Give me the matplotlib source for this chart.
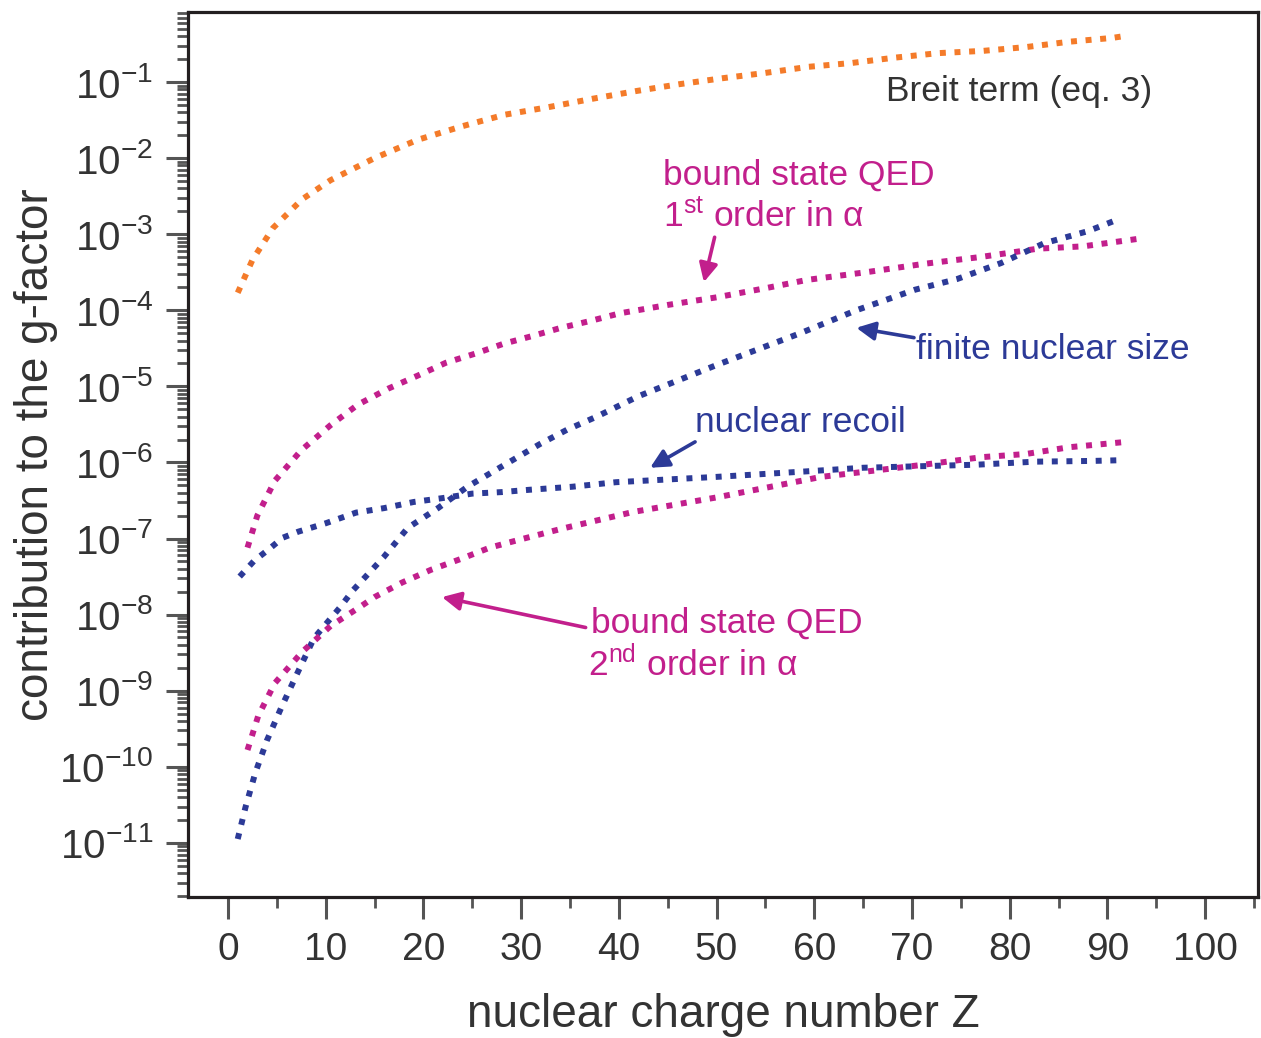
import numpy as np
import matplotlib
matplotlib.use("Agg")
import matplotlib.pyplot as plt
from matplotlib.ticker import LogLocator, MultipleLocator, NullFormatter

plt.rcParams['font.family'] = ['Liberation Sans', 'DejaVu Sans']
plt.rcParams['mathtext.fontset'] = 'custom'
plt.rcParams['mathtext.rm'] = 'Liberation Sans'
plt.rcParams['mathtext.it'] = 'Liberation Sans:italic'
plt.rcParams['mathtext.bf'] = 'Liberation Sans:bold'

# Breit term (eq. 3)
breit_z = [1, 2.5, 4.6, 7.6, 10.5, 15, 19.4, 24, 28.3, 32.8, 37.3, 41.7, 46.1,
           50.6, 55, 59.4, 63.8, 68.2, 72.7, 77.3, 81.7, 86.1, 90.5, 92]
breit_log = [-3.77, -3.34, -2.92, -2.54, -2.29, -2.00, -1.76, -1.58, -1.43, -1.33,
             -1.22, -1.12, -1.03, -0.95, -0.88, -0.80, -0.75, -0.68, -0.62, -0.59,
             -0.54, -0.47, -0.42, -0.39]

# bound state QED, 1st order in alpha
qed1_z = [2, 3, 4.8, 7.5, 10.5, 13.3, 16.4, 19.4, 22.3, 25.3, 28.2, 31.1, 34.1,
          37.1, 40.1, 45, 50, 55, 59.3, 65.3, 71.2, 77, 82.9, 87.5, 93.2]
qed1_log = [-7.12, -6.70, -6.24, -5.84, -5.51, -5.24, -5.03, -4.86, -4.69, -4.57,
            -4.44, -4.34, -4.23, -4.14, -4.04, -3.93, -3.83, -3.71, -3.60, -3.50,
            -3.39, -3.30, -3.19, -3.16, -3.06]

# finite nuclear size
fns_z = [1, 1.8, 2.8, 4, 5.5, 7.1, 8.8, 11.5, 12.8, 15.9, 18.4, 21.5, 24.5, 27.4,
         31.9, 34.7, 37.7, 42, 50, 58.6, 64.3, 70.3, 74.6, 79.1, 83.5, 88, 91]
fns_log = [-10.95, -10.53, -10.08, -9.65, -9.21, -8.77, -8.31, -7.90, -7.68, -7.25,
           -6.86, -6.60, -6.32, -6.10, -5.76, -5.57, -5.40, -5.13, -4.72, -4.30,
           -4.00, -3.73, -3.59, -3.38, -3.12, -2.96, -2.81]

# nuclear recoil
rec_z = [1.2, 2.7, 4.2, 5.6, 7.2, 10, 13.1, 16, 19, 21.9, 25, 28, 30.8, 35.2, 39.7,
         50, 58.9, 65, 70.8, 76.6, 82.6, 88.6, 91.6]
rec_log = [-7.50, -7.29, -7.14, -6.99, -6.91, -6.80, -6.66, -6.60, -6.52, -6.47,
           -6.41, -6.39, -6.36, -6.32, -6.26, -6.19, -6.12, -6.07, -6.05, -6.03,
           -5.99, -5.98, -5.97]

# bound state QED, 2nd order in alpha
qed2_z = [2, 3.1, 4.8, 7.6, 10.5, 13.5, 15, 17.8, 20.8, 23.8, 26.8, 29.7, 34.2,
          38.5, 41.5, 50, 60.7, 65.3, 71.2, 77.2, 81.6, 86.1, 91.9]
qed2_log = [-9.78, -9.33, -8.90, -8.49, -8.15, -7.90, -7.77, -7.58, -7.41, -7.27,
            -7.12, -7.02, -6.87, -6.74, -6.65, -6.46, -6.19, -6.12, -6.03, -5.93,
            -5.89, -5.80, -5.73]

orange = '#F47B2A'
magenta = '#C21F8C'
blue = '#2C3A97'

fig = plt.figure(figsize=(12.61, 10.38), dpi=100)
ax = fig.add_axes([0.149, 0.136, 0.8486, 0.8524])

# square dots, roughly 6 px wide with 8 px gaps
dots = dict(linestyle=(0, (1, 1.45)), lw=4.3, dash_capstyle='butt')
ax.plot(breit_z, 10 ** np.array(breit_log), color=orange, **dots)
ax.plot(qed1_z, 10 ** np.array(qed1_log), color=magenta, **dots)
ax.plot(fns_z, 10 ** np.array(fns_log), color=blue, **dots)
ax.plot(rec_z, 10 ** np.array(rec_log), color=blue, **dots)
ax.plot(qed2_z, 10 ** np.array(qed2_log), color=magenta, **dots)

ax.set_yscale('log')
ax.set_xlim(-4.1, 105.4)
ax.set_ylim(10 ** -11.71, 10 ** -0.08)

ax.xaxis.set_major_locator(MultipleLocator(10))
ax.xaxis.set_minor_locator(MultipleLocator(5))
ax.yaxis.set_major_locator(LogLocator(base=10, numticks=20))
ax.yaxis.set_minor_locator(LogLocator(base=10, subs=np.arange(2, 10), numticks=20))
ax.yaxis.set_minor_formatter(NullFormatter())

for s in ax.spines.values():
    s.set_linewidth(2.3)
    s.set_color('#231F20')
ax.tick_params(which='major', length=16, width=2.2, color='#555555', labelsize=28,
               pad=9, labelcolor='#333333')
ax.tick_params(which='minor', length=8, width=2.0, color='#555555')
ax.tick_params(axis='y', which='major', labelsize=29)

ax.set_xlabel('nuclear charge number Z', fontsize=33, color='#333333', labelpad=18)
ax.set_ylabel('contribution to the g-factor', fontsize=33, color='#333333', labelpad=1)

# curve labels
tkw = dict(fontsize=25.5, ha='left', va='center')
ax.text(67.3, 10 ** -1.13, 'Breit term (eq. 3)', color='#333333', **tkw)
ax.text(44.5, 10 ** -2.22, 'bound state QED', color=magenta, **tkw)
ax.text(44.5, 10 ** -2.77, r'1$^{\rm st}$ order in α', color=magenta, **tkw)
ax.text(70.4, 10 ** -4.52, 'finite nuclear size', color=blue, **tkw)
ax.text(47.8, 10 ** -5.48, 'nuclear recoil', color=blue, **tkw)
ax.text(37.1, 10 ** -8.11, 'bound state QED', color=magenta, **tkw)
ax.text(36.8, 10 ** -8.66, r'2$^{\rm nd}$ order in α', color=magenta, **tkw)

def arrow(tail, tip, color):
    ax.annotate('', xy=(tip[0], 10 ** tip[1]), xytext=(tail[0], 10 ** tail[1]),
                arrowprops=dict(arrowstyle='-|>', color=color, lw=2.6,
                                mutation_scale=28, shrinkA=0, shrinkB=0))

arrow((49.8, -3.04), (48.7, -3.63), magenta)
arrow((70.2, -4.36), (64.3, -4.23), blue)
arrow((47.8, -5.73), (43.2, -6.07), blue)
arrow((36.6, -8.17), (21.9, -7.77), magenta)

fig.savefig('out.png', dpi=100)
